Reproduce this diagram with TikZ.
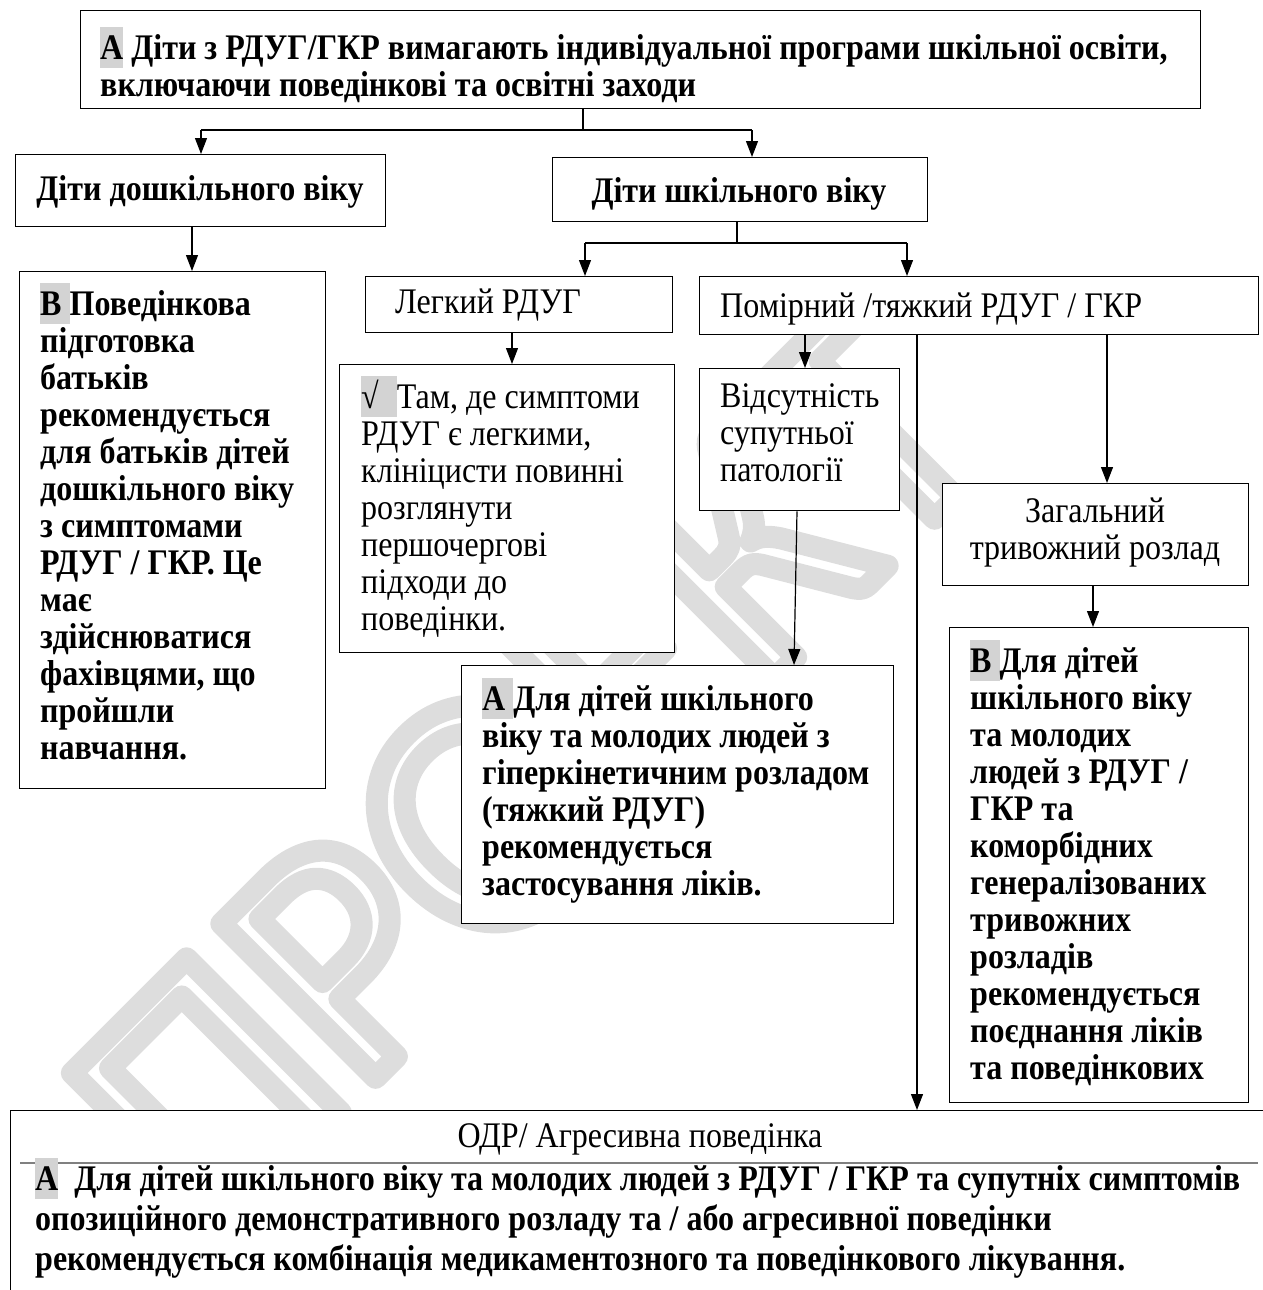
\documentclass[tikz,border=0pt]{standalone}
\usepackage{fontspec}
\setmainfont{Liberation Serif}[FakeStretch=0.89]
\newfontfamily\wmfont{Carlito}
\usetikzlibrary{arrows.meta}

\definecolor{hlgray}{HTML}{D3D3D3}
\definecolor{wmgray}{HTML}{DDDDDD}

% grey marker behind the grade letters
\newcommand{\hl}[1]{{\setlength{\fboxsep}{0pt}\colorbox{hlgray}{\rule[-0.24em]{0pt}{1.14em}#1}}}

\tikzset{
  box/.style={draw, fill=white, line width=1.3pt, anchor=north west, inner sep=0pt},
  txt/.style={anchor=base west, inner sep=0pt, align=left, font={\fontsize{36}{37}\selectfont}},
  btxt/.style={txt, font={\fontsize{36}{37}\selectfont\bfseries}},
  link/.style={line width=1.2pt},
  arr/.style={line width=1.2pt, -{Triangle[length=16pt,width=12pt]}},
}

\begin{document}
\begin{tikzpicture}[x=1pt, y=-1pt]
\useasboundingbox (0,0) rectangle (1262,1290);

% Watermark
\node[rotate=45, text=wmgray, inner sep=0pt, font={\wmfont\fontsize{340}{340}\selectfont}] (wm) at (529,770)
  {\special{pdf:literal direct q 1 Tr 22 w 1 j}ПРОЕКТ\special{pdf:literal direct Q}};

%
% Top level
%
\node[box, minimum width=1120pt, minimum height=98pt] (top) at (80,10) {};
\node[btxt] (toptxt) at (100,96)
  {\hl{А} Діти з РДУГ/ГКР вимагають індивідуальної програми шкільної освіти,\\
   включаючи поведінкові та освітні заходи};

% Age groups
\node[box, minimum width=370pt, minimum height=72pt] (pre) at (15,154) {};
\node[btxt, anchor=base] (pretxt) at (200,200) {Діти дошкільного віку};

\node[box, minimum width=375pt, minimum height=64pt] (sch) at (552,157) {};
\node[btxt, anchor=base] (schtxt) at (739,202) {Діти шкільного віку};

\coordinate (s1) at (583,130);
\coordinate (s1l) at (201,130);
\coordinate (s1r) at (752,130);
\draw[link] (top.south -| s1) -- (s1);
\draw[link] (s1l) -- (s1r);
\draw[arr] (s1l) -- (s1l |- pre.north);
\draw[arr] (s1r) -- (s1r |- sch.north);

%
% Preschool branch
%
\node[box, minimum width=306pt, minimum height=517pt] (bpar) at (19,271) {};
\node[btxt] (bpartxt) at (40,759)
  {\hl{В }Поведінкова\\
   підготовка\\
   батьків\\
   рекомендується\\
   для батьків дітей\\
   дошкільного віку\\
   з симптомами\\
   РДУГ / ГКР. Це\\
   має\\
   здійснюватися\\
   фахівцями, що\\
   пройшли\\
   навчання.};

\coordinate (xp) at (192,0);
\draw[arr] (pre.south -| xp) -- (bpar.north -| xp);

%
% School branch
%
\node[box, minimum width=307pt, minimum height=56pt] (leg) at (365,276) {};
\node[txt] (legtxt) at (395,313) {Легкий РДУГ};

\node[box, minimum width=559pt, minimum height=58pt] (mod) at (699,276) {};
\node[txt] (modtxt) at (720,317) {Помірний /тяжкий РДУГ / ГКР};

\coordinate (s2) at (737,243);
\coordinate (s2l) at (585,243);
\coordinate (s2r) at (907,243);
\draw[link] (sch.south -| s2) -- (s2);
\draw[link] (s2l) -- (s2r);
\draw[arr] (s2l) -- (s2l |- leg.north);
\draw[arr] (s2r) -- (s2r |- mod.north);

% Mild
\node[box, minimum width=335pt, minimum height=288pt] (mild) at (339,364) {};
\node[txt] (mildtxt) at (361,630)
  {\hl{√\hspace{18pt}}Там, де симптоми\\
   РДУГ є легкими,\\
   клініцисти повинні\\
   розглянути\\
   першочергові\\
   підходи до\\
   поведінки.};

\coordinate (xl) at (512,0);
\draw[arr] (leg.south -| xl) -- (mild.north -| xl);

% Moderate / severe
\node[box, minimum width=200pt, minimum height=142pt] (nocom) at (699,368) {};
\node[txt] (nocomtxt) at (720,481)
  {Відсутність\\
   супутньої\\
   патології};

\node[box, minimum width=306pt, minimum height=102pt] (gad) at (942,483) {};
\node[txt, anchor=base, align=center] (gadtxt) at (1095,559)
  {Загальний\\
   тривожний розлад};

\node[box, minimum width=432pt, minimum height=258pt] (amed) at (461,665) {};
\node[btxt] (amedtxt) at (482,895)
  {\hl{А }Для дітей шкільного\\
   віку та молодих людей з\\
   гіперкінетичним розладом\\
   (тяжкий РДУГ)\\
   рекомендується\\
   застосування ліків.};

\node[box, minimum width=299pt, minimum height=475pt] (bgad) at (949,627) {};
\node[btxt] (bgadtxt) at (970,1079)
  {\hl{В }Для дітей\\
   шкільного віку\\
   та молодих\\
   людей з РДУГ /\\
   ГКР та\\
   коморбідних\\
   генералізованих\\
   тривожних\\
   розладів\\
   рекомендується\\
   поєднання ліків\\
   та поведінкових};

\coordinate (xm1) at (805,0);
\coordinate (xm2) at (917,0);
\coordinate (xm3) at (1107,0);
\coordinate (xg) at (1093,0);
\coordinate (na) at (797,510);
\coordinate (nb) at (794,665);
\draw[arr] (mod.south -| xm1) -- (nocom.north -| xm1);
\draw[arr] (mod.south -| xm3) -- (gad.north -| xm3);
\draw[arr] (gad.south -| xg) -- (bgad.north -| xg);
\draw[arr] (nocom.south -| na) -- (amed.north -| nb);

%
% ODD / aggression
%
\node[box, minimum width=1300pt, minimum height=300pt] (odd) at (10,1110) {};
\node[txt, anchor=base] (oddtitle) at (640,1147) {ОДР/ Агресивна поведінка};
\draw[line width=1.5pt, black!50] (20,1163) -- (1258,1163);
\node[btxt, font={\fontsize{36}{40}\selectfont\bfseries}] (oddtxt) at (35,1270)
  {\hl{А}\ \ Для дітей шкільного віку та молодих людей з РДУГ / ГКР та супутніх симптомів\\
   опозиційного демонстративного розладу та / або агресивної поведінки\\
   рекомендується комбінація медикаментозного та поведінкового лікування.};

\draw[arr] (mod.south -| xm2) -- (odd.north -| xm2);

\end{tikzpicture}
\end{document}
